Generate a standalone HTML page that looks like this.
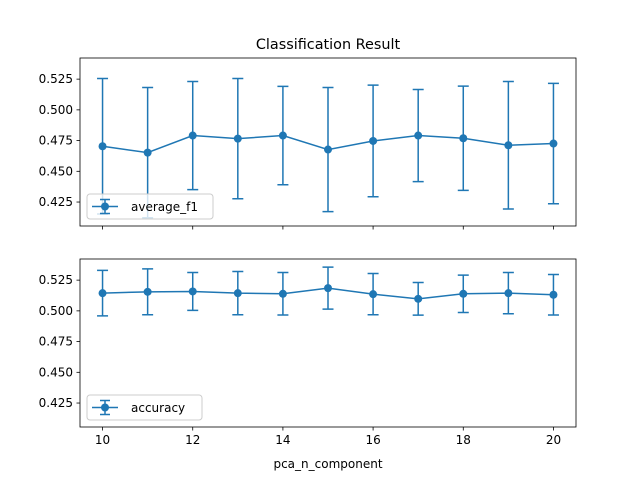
<!DOCTYPE html>
<html><head><meta charset="utf-8"><style>
body{margin:0;background:#fff;}
svg{display:block;font-family:"DejaVu Sans","Liberation Sans",sans-serif;}
</style></head><body>
<svg id="chart" width="640" height="480" viewBox="0 0 640 480" xmlns="http://www.w3.org/2000/svg">
<rect width="640" height="480" fill="#fff"/>
<text x="328" y="49" font-size="14.4" text-anchor="middle">Classification Result</text>
<text x="328" y="468" font-size="12" text-anchor="middle">pca_n_component</text>
<g id="plots"></g>
</svg>
<script>
const xs = [10,11,12,13,14,15,16,17,18,19,20];
const f1Mean = [0.4704,0.4652,0.4791,0.4766,0.4791,0.4677,0.4747,0.4791,0.4769,0.4712,0.4726];
const f1Err = [0.0551,0.0530,0.0440,0.0489,0.0400,0.0505,0.0454,0.0375,0.0424,0.0519,0.0490];
const accMean = [0.5144,0.5155,0.5158,0.5144,0.5139,0.5185,0.5136,0.5098,0.5139,0.5144,0.5131];
const accErr = [0.0185,0.0187,0.0154,0.0176,0.0173,0.0171,0.0168,0.0133,0.0152,0.0168,0.0165];
const yTicks = [0.425,0.450,0.475,0.500,0.525];
const xTicks = [10,12,14,16,18,20];
const yLim = [0.4055,0.5422];
const xLim = [9.5,20.5];
const C = '#1f77b4';
const NS = 'http://www.w3.org/2000/svg';
const root = document.getElementById('plots');
function el(tag, attrs, parent){const e=document.createElementNS(NS,tag);for(const k in attrs)e.setAttribute(k,attrs[k]);(parent||root).appendChild(e);return e;}
const L=80,R=576;
function xScale(v){return L+(v-xLim[0])/(xLim[1]-xLim[0])*(R-L);}
function panel(top,bottom,means,errs,label,name,showXLabels,legW){
  const g=el('g',{});
  
  
  const y=v=>bottom-(v-yLim[0])/(yLim[1]-yLim[0])*(bottom-top);
  yTicks.forEach(t=>{
    const yy=y(t);
    const tk=el('line',{x1:L-3.5,x2:L,y1:yy,y2:yy,stroke:'#000','stroke-width':0.8},g);
    
    
    const tx=el('text',{x:L-7,y:yy+4,'font-size':12,'text-anchor':'end'},g);
    
    
    tx.textContent=t.toFixed(3);
  });
  xTicks.forEach(t=>{
    const xx=xScale(t);
    const tk=el('line',{x1:xx,x2:xx,y1:bottom,y2:bottom+3.5,stroke:'#000','stroke-width':0.8},g);
    
    
    if(showXLabels){
      const tx=el('text',{x:xx,y:bottom+17,'font-size':12,'text-anchor':'middle'},g);
      
      
      tx.textContent=t;
    }
  });
  xs.forEach((x,i)=>{
    const xx=xScale(x),y1=y(means[i]+errs[i]),y2=y(means[i]-errs[i]);
    const eb=el('path',{d:`M${xx},${y1}V${y2}M${xx-5.5},${y1}H${xx+5.5}M${xx-5.5},${y2}H${xx+5.5}`,stroke:C,'stroke-width':1.5,fill:'none'},g);
    
    
  });
  const ln=el('polyline',{points:xs.map((x,i)=>xScale(x)+','+y(means[i])).join(' '),stroke:C,'stroke-width':1.5,fill:'none'},g);
  
  
  xs.forEach((x,i)=>{
    const p=el('circle',{cx:xScale(x),cy:y(means[i]),r:4,fill:C},g);
    
    
  });
  const fr=el('rect',{x:L,y:top,width:R-L,height:bottom-top,fill:'none',stroke:'#000','stroke-width':0.8},g);
  
  
  const lg=el('g',{},g);
  
  
  const ly=bottom-32;
  el('rect',{x:87,y:ly,width:legW,height:25,rx:3,fill:'#fff','fill-opacity':0.8,stroke:'#ccc','stroke-width':1},lg);
  const cy=ly+12.5;
  el('path',{d:`M92,${cy}H118M105,${cy-7}V${cy+7}M100,${cy-7}H110M100,${cy+7}H110`,stroke:C,'stroke-width':1.5,fill:'none'},lg);
  el('circle',{cx:105,cy:cy,r:4,fill:C},lg);
  const lt=el('text',{x:131,y:cy+4.5,'font-size':12},lg);
  
  
  lt.textContent=label;
}
panel(58,226,f1Mean,f1Err,'average_f1','average-f1',false,126);
panel(259,427,accMean,accErr,'accuracy','accuracy',true,115);
</script>
</body></html>
